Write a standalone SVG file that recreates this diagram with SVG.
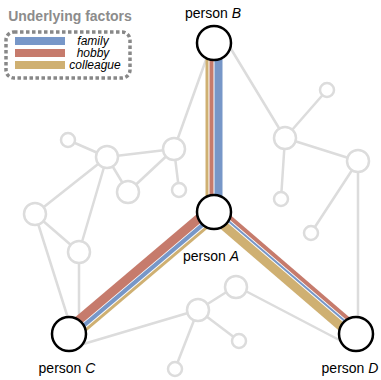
<svg xmlns="http://www.w3.org/2000/svg" width="381" height="380" viewBox="0 0 381 380">
<style>
.e{stroke:#dcdcdc;stroke-width:2.5;fill:none;stroke-linecap:round}
.g{fill:#fff;stroke:#dcdcdc;stroke-width:2.5}
.p{fill:#fff;stroke:#000;stroke-width:2.5}
.lbl{font-family:"Liberation Sans",Arial,sans-serif;font-size:14px;fill:#000;text-anchor:middle}
.lg{font-family:"Liberation Sans",Arial,sans-serif;font-size:12px;font-style:italic;fill:#000;text-anchor:middle}
.blue{stroke:#7797c8}
.red{stroke:#c67b6c}
.gold{stroke:#cfb072}
</style>
<g id="legend">
<text x="70" y="21" style="font-family:'Liberation Sans',Arial,sans-serif;font-size:14px;font-weight:bold;fill:#8c8c8c" text-anchor="middle">Underlying factors</text>
<rect x="6" y="32" width="124" height="46" rx="8" fill="none" stroke="#888" stroke-width="3.5" stroke-dasharray="3.5 2.5"/>
<rect x="15" y="37" width="50" height="8" fill="#7797c8"/>
<rect x="15" y="49" width="50" height="8" fill="#c67b6c"/>
<rect x="15" y="61" width="50" height="8" fill="#cfb072"/>
<text class="lg" x="93" y="45">family</text>
<text class="lg" x="93" y="57">hobby</text>
<text class="lg" x="95" y="69">colleague</text>
</g>
<g id="connectors">
<line class="e" x1="212" y1="43" x2="174" y2="149"/>
<line class="e" x1="228" y1="44" x2="285" y2="138"/>
<line class="e" x1="68" y1="140" x2="107" y2="157"/>
<line class="e" x1="107" y1="157" x2="174" y2="149"/>
<line class="e" x1="107" y1="157" x2="128" y2="192"/>
<line class="e" x1="174" y1="149" x2="128" y2="192"/>
<line class="e" x1="174" y1="149" x2="179" y2="190"/>
<line class="e" x1="107" y1="157" x2="35" y2="214"/>
<line class="e" x1="107" y1="157" x2="79" y2="252"/>
<line class="e" x1="35" y1="214" x2="79" y2="252"/>
<line class="e" x1="35" y1="214" x2="73" y2="334"/>
<line class="e" x1="79" y1="252" x2="79" y2="334"/>
<line class="e" x1="285" y1="138" x2="327" y2="90"/>
<line class="e" x1="285" y1="138" x2="358" y2="161"/>
<line class="e" x1="285" y1="138" x2="281" y2="199"/>
<line class="e" x1="358" y1="161" x2="311" y2="233"/>
<line class="e" x1="358" y1="161" x2="358" y2="334"/>
<line class="e" x1="236" y1="286" x2="198" y2="310"/>
<line class="e" x1="236" y1="286" x2="345" y2="343"/>
<line class="e" x1="198" y1="310" x2="80" y2="345"/>
<line class="e" x1="198" y1="310" x2="239" y2="341"/>
<line class="e" x1="198" y1="310" x2="175" y2="369"/>
<g id="bands" fill="none">
<line class="gold" x1="207" y1="43" x2="207" y2="212" stroke-width="3"/>
<line class="red" x1="211.5" y1="43" x2="211.5" y2="212" stroke-width="4"/>
<line class="blue" x1="218.5" y1="43" x2="218.5" y2="212" stroke-width="8"/>
<line class="red" x1="210.8" y1="208.2" x2="66.8" y2="330.2" stroke-width="9"/>
<line class="blue" x1="215.6" y1="213.9" x2="71.6" y2="335.9" stroke-width="4"/>
<line class="gold" x1="218.5" y1="217.3" x2="74.5" y2="339.3" stroke-width="3"/>
<line class="red" x1="218.3" y1="207.2" x2="360.3" y2="329.2" stroke-width="4"/>
<line class="blue" x1="215.6" y1="210.1" x2="357.6" y2="332.1" stroke-width="2"/>
<line class="gold" x1="211.4" y1="215.0" x2="353.4" y2="337.0" stroke-width="9"/>
</g>
</g>
<g id="n1"><circle class="g" cx="68" cy="140" r="7"/></g>
<g id="n2"><circle class="g" cx="107" cy="157" r="11"/></g>
<g id="n3"><circle class="g" cx="174" cy="149" r="11"/></g>
<g id="n4"><circle class="g" cx="128" cy="192" r="11"/></g>
<g id="n5"><circle class="g" cx="179" cy="190" r="7"/></g>
<g id="n6"><circle class="g" cx="35" cy="214" r="11"/></g>
<g id="n7"><circle class="g" cx="79" cy="252" r="11"/></g>
<g id="n8"><circle class="g" cx="285" cy="138" r="11"/></g>
<g id="n9"><circle class="g" cx="327" cy="90" r="7"/></g>
<g id="n10"><circle class="g" cx="358" cy="161" r="11"/></g>
<g id="n11"><circle class="g" cx="281" cy="199" r="7"/></g>
<g id="n12"><circle class="g" cx="311" cy="233" r="7"/></g>
<g id="n13"><circle class="g" cx="236" cy="287" r="11"/></g>
<g id="n14"><circle class="g" cx="198" cy="310" r="11"/></g>
<g id="n15"><circle class="g" cx="239" cy="341" r="7"/></g>
<g id="n16"><circle class="g" cx="175" cy="369" r="7"/></g>
<g id="personB"><circle class="p" cx="214" cy="43" r="17"/><text class="lbl" x="213" y="18">person <tspan font-style="italic">B</tspan></text></g>
<g id="personA"><circle class="p" cx="214" cy="212" r="17"/><text class="lbl" x="211" y="261">person <tspan font-style="italic">A</tspan></text></g>
<g id="personC"><circle class="p" cx="69" cy="334" r="17"/><text class="lbl" x="67" y="373">person <tspan font-style="italic">C</tspan></text></g>
<g id="personD"><circle class="p" cx="356" cy="334" r="17"/><text class="lbl" x="350" y="373">person <tspan font-style="italic">D</tspan></text></g>
</svg>
